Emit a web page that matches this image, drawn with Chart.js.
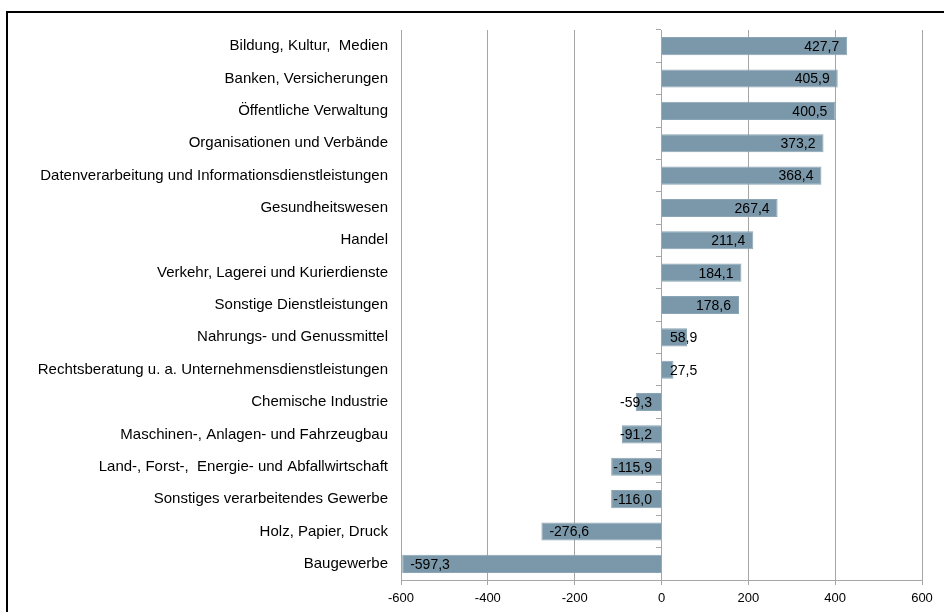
<!DOCTYPE html>
<html>
<head>
<meta charset="utf-8">
<script src="https://cdn.jsdelivr.net/npm/chart.js@4"></script>
<style>
  html, body { margin: 0; padding: 0; background: #fff; overflow: hidden; }
  #wrap { position: relative; width: 944px; height: 612px; }
  #frame { position: absolute; left: 6px; top: 11px; width: 960px; height: 640px;
           border-left: 2px solid #000; border-top: 2px solid #000; pointer-events: none; }
</style>
</head>
<body>
<div id="wrap">
  <canvas id="barChart" width="944" height="612"></canvas>
  <div id="frame"></div>
</div>
<script>
const categories = [
    'Bildung, Kultur,  Medien',
    'Banken, Versicherungen',
    'Öffentliche Verwaltung',
    'Organisationen und Verbände',
    'Datenverarbeitung und Informationsdienstleistungen',
    'Gesundheitswesen',
    'Handel',
    'Verkehr, Lagerei und Kurierdienste',
    'Sonstige Dienstleistungen',
    'Nahrungs- und Genussmittel',
    'Rechtsberatung u. a. Unternehmensdienstleistungen',
    'Chemische Industrie',
    'Maschinen-, Anlagen- und Fahrzeugbau',
    'Land-, Forst-,  Energie- und Abfallwirtschaft',
    'Sonstiges verarbeitendes Gewerbe',
    'Holz, Papier, Druck',
    'Baugewerbe'
];
const values = [427.7, 405.9, 400.5, 373.2, 368.4, 267.4, 211.4, 184.1, 178.6, 58.9, 27.5,
                -59.3, -91.2, -115.9, -116.0, -276.6, -597.3];
const xMin = -600;
const xMax = 600;
const xStep = 200;

const FONT = '"Liberation Sans", Arial, sans-serif';
const GRID = '#a6a6a6';

// value labels: inside the bar end, pushed out when the bar is too short
const valueLabels = {
    id: 'valueLabels',
    afterDatasetsDraw(chart) {
        const ctx = chart.ctx;
        const meta = chart.getDatasetMeta(0);
        ctx.save();
        ctx.font = '14px ' + FONT;
        ctx.fillStyle = '#000';
        ctx.textBaseline = 'middle';
        ctx.textAlign = 'left';
        meta.data.forEach((bar, i) => {
            const v = values[i];
            const txt = v.toFixed(1).replace('.', ',');
            const w = ctx.measureText(txt).width;
            let x;
            if (v >= 0) x = Math.max(bar.x - 8 - w, bar.base + 8);
            else x = Math.min(bar.x + 8, bar.base - 9 - w);
            ctx.fillText(txt, x, bar.y + 1);
        });
        ctx.restore();
    }
};

function init() {
    const ctx = document.getElementById('barChart').getContext('2d');
    new Chart(ctx, {
        type: 'bar',
        data: {
            labels: categories,
            datasets: [{
                data: values,
                backgroundColor: '#7a98a9',
                borderColor: '#8aa5b4',
                borderWidth: 1,
                barPercentage: 0.56,
                categoryPercentage: 1,
                yAxisID: 'y'
            }]
        },
        options: {
            indexAxis: 'y',
            responsive: false,
            animation: false,
            devicePixelRatio: 1,
            layout: { padding: { left: 10, right: 22, top: 30, bottom: 0 } },
            plugins: {
                legend: { display: false },
                tooltip: { enabled: false }
            },
            scales: {
                x: {
                    min: xMin,
                    max: xMax,
                    ticks: { stepSize: xStep, color: '#000', font: { family: FONT, size: 13 }, padding: 6 },
                    grid: { color: GRID, tickColor: GRID, tickLength: 5 },
                    border: { color: GRID },
                    afterFit(scale) { scale.height = 32; }
                },
                y: {
                    position: 'left',
                    grid: { display: false, drawTicks: false },
                    border: { display: false },
                    ticks: { color: '#000', font: { family: FONT, size: 15 }, padding: 13, autoSkip: false },
                    afterFit(scale) { scale.width = 391; }
                },
                y2: {
                    type: 'category',
                    axis: 'y',
                    position: { x: 0 },
                    offset: true,
                    ticks: { display: false },
                    grid: { offset: true, drawOnChartArea: false, drawTicks: true, tickLength: 5, color: GRID },
                    border: { color: GRID }
                }
            }
        },
        plugins: [valueLabels]
    });
}

window.onload = init;
</script>
</body>
</html>
